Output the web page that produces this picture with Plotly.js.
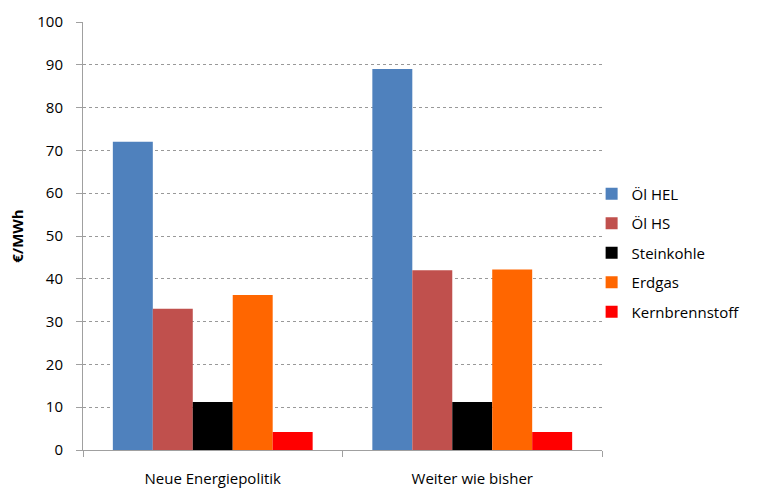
<!DOCTYPE html>
<html><head><meta charset="utf-8">
<script src="https://cdn.plot.ly/plotly-3.0.1.min.js"></script>
<style>body{margin:0;background:#fff}#c{width:757px;height:489px}</style>
</head><body><div id="c"></div>
<script>
const categories = ["Neue Energiepolitik", "Weiter wie bisher"];
const seriesNames = ["Öl HEL", "Öl HS", "Steinkohle", "Erdgas", "Kernbrennstoff"];
const oelHEL = [72, 89];
const oelHS = [33, 42];
const steinkohle = [11.2, 11.2];
const erdgas = [36.2, 42.2];
const kernbrennstoff = [4.2, 4.2];
const yTicks = [0,10,20,30,40,50,60,70,80,90,100];
const colors = ["#4F81BD", "#C0504D", "#000000", "#FF6600", "#FF0000"];
const values = [oelHEL, oelHS, steinkohle, erdgas, kernbrennstoff];
const font = "Open Sans, Liberation Sans, sans-serif";

const traces = seriesNames.map((n, i) => ({
  type: "bar", name: n, x: categories, y: values[i],
  marker: {color: colors[i], line: {width: 0}},
  legendgroup: "g" + i, hoverinfo: "none"
}));

const layout = {
  width: 757, height: 489,
  margin: {l: 83, r: 155, t: 22, b: 39, pad: 0},
  paper_bgcolor: "#fff", plot_bgcolor: "#fff",
  barmode: "group", bargap: 0.23, bargroupgap: 0,
  font: {family: font, size: 15, color: "#000"},
  showlegend: true,
  legend: {x: 0.98, xanchor: "left", y: 0.46, yanchor: "middle",
           font: {family: font, size: 15, color: "#000"},
           traceorder: "grouped", tracegroupgap: 7, itemwidth: 30, bgcolor: "rgba(0,0,0,0)"},
  xaxis: {type: "category", showline: true, linecolor: "#A0A0A0", linewidth: 1,
          ticks: "outside", tickson: "boundaries", ticklen: 6, tickcolor: "#A0A0A0",
          showgrid: false, zeroline: false, ticklabelstandoff: 15,
          tickfont: {family: font, size: 15, color: "#000"}},
  yaxis: {range: [0, 100], tickvals: yTicks, showline: true, linecolor: "#A0A0A0", linewidth: 1,
          ticks: "outside", ticklen: 6, tickcolor: "#A0A0A0", ticklabelstandoff: 10,
          showgrid: true, gridcolor: "#999999", griddash: "3px,3px", gridwidth: 1,
          zeroline: false, tickfont: {family: font, size: 15, color: "#000"},
          title: {text: "<b>€/MWh</b>", font: {family: font, size: 15, color: "#000"}, standoff: 10}}
};
Plotly.newPlot("c", traces, layout, {staticPlot: true});
</script></body></html>
